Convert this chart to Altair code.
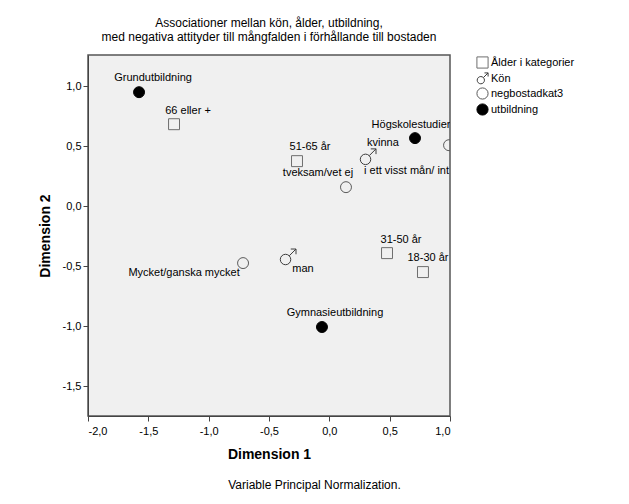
import altair as alt
import pandas as pd

# ---- data ----
labels = ["Grundutbildning", "66 eller +", "51-65 år", "31-50 år", "18-30 år",
          "kvinna", "man", "tveksam/vet ej", "i ett visst mån/ int",
          "Mycket/ganska mycket", "Högskolestudier", "Gymnasieutbildning"]
groups = ["utbildning", "Ålder i kategorier", "Ålder i kategorier", "Ålder i kategorier",
          "Ålder i kategorier", "Kön", "Kön", "negbostadkat3", "negbostadkat3",
          "negbostadkat3", "utbildning", "utbildning"]
dim1 = [-1.577, -1.287, -0.268, 0.478, 0.776, 0.32, -0.343, 0.138, 0.992, -0.715, 0.71, -0.061]
dim2 = [0.95, 0.683, 0.375, -0.392, -0.55, 0.41, -0.425, 0.158, 0.508, -0.475, 0.567, -1.008]

group_order = ["Ålder i kategorier", "Kön", "negbostadkat3", "utbildning"]
x_ticks = [-2.0, -1.5, -1.0, -0.5, 0.0, 0.5, 1.0]
y_ticks = [-1.5, -1.0, -0.5, 0.0, 0.5, 1.0]

title_lines = ["Associationer mellan kön, ålder, utbildning,",
               "med negativa attityder till mångfalden i förhållande till bostaden"]
footer_text = "Variable Principal Normalization."

df = pd.DataFrame({"label": labels, "group": groups, "dim1": dim1, "dim2": dim2})

FONT = "Liberation Sans"
MALE = ("M -0.95 0.3 A 0.65 0.65 0 1 1 0.35 0.3 A 0.65 0.65 0 1 1 -0.95 0.3 "
        "M 0.16 -0.16 L 1 -1 M 0.35 -1 L 1 -1 L 1 -0.35")

xscale = alt.Scale(domain=[-2.0, 1.0], nice=False, zero=False)
yscale = alt.Scale(domain=[-1.75, 1.26], nice=False, zero=False)
lab_expr = "replace(replace(format(datum.value, '.1f'), '.', ','), '\u2212', '-')"

xenc = alt.X("dim1:Q", scale=xscale,
             axis=alt.Axis(values=x_ticks, labelExpr=lab_expr, title="Dimension 1",
                           grid=False, tickSize=5, labelPadding=4, titlePadding=11,
                           titleFontSize=14, titleFontWeight="bold", labelFontSize=11,
                           domainColor="#444", tickColor="#444", labelColor="#000",
                           titleColor="#000", labelFont=FONT, titleFont=FONT))
yenc = alt.Y("dim2:Q", scale=yscale,
             axis=alt.Axis(values=y_ticks, labelExpr=lab_expr, title="Dimension 2",
                           grid=False, tickSize=5, labelPadding=2, titlePadding=10,
                           titleFontSize=14, titleFontWeight="bold", labelFontSize=11,
                           domainColor="#444", tickColor="#444", labelColor="#000",
                           titleColor="#000", labelFont=FONT, titleFont=FONT))

shape_enc = alt.Shape("group:N", scale=alt.Scale(domain=group_order,
                                                 range=["square", MALE, "circle", "circle"]),
                      legend=alt.Legend(title=None, orient="none", legendX=388, legendY=1,
                                        labelFont=FONT, labelFontSize=11, labelColor="#000",
                                        symbolSize=125, symbolStrokeWidth=1, labelOffset=2,
                                        rowPadding=-1, padding=0))
fill_enc = alt.Fill("group:N", scale=alt.Scale(domain=group_order,
                                               range=["transparent", "transparent", "transparent", "#000"]))
stroke_enc = alt.Stroke("group:N", scale=alt.Scale(domain=group_order,
                                                   range=["#6e6e6e", "#3c3c3c", "#5a5a5a", "#000"]))

points = alt.Chart(df).transform_filter(alt.datum.group != "Kön").mark_point(
    filled=True, clip=True, strokeWidth=1, opacity=1, size=120
).encode(x=xenc, y=yenc, shape=shape_enc, fill=fill_enc, stroke=stroke_enc)

males = alt.Chart(df).transform_filter(alt.datum.group == "Kön").mark_point(
    filled=True, clip=True, strokeWidth=1, opacity=1, size=260
).encode(x=xenc, y=yenc, shape=shape_enc, fill=fill_enc, stroke=stroke_enc)

offsets = {
    "Grundutbildning": (14, -14, "center"),
    "66 eller +": (14, -13, "center"),
    "51-65 år": (13, -14, "center"),
    "31-50 år": (14, -13, "center"),
    "18-30 år": (5, -14, "center"),
    "kvinna": (15, -14, "center"),
    "man": (15, 12, "center"),
    "tveksam/vet ej": (-28, -14, "center"),
    "i ett visst mån/ int": (-85, 26, "left"),
    "Mycket/ganska mycket": (-59, 10, "center"),
    "Högskolestudier": (-4, -13, "center"),
    "Gymnasieutbildning": (13, -14, "center"),
}

layers = [points, males]
for lab, (dx, dy, al) in offsets.items():
    layers.append(
        alt.Chart(df).transform_filter(alt.datum.label == lab)
        .mark_text(dx=dx, dy=dy, align=al, baseline="middle", font=FONT, fontSize=11,
                   color="#000", clip=True)
        .encode(x=alt.X("dim1:Q", scale=xscale), y=alt.Y("dim2:Q", scale=yscale),
                text="label:N")
    )

footer = alt.Chart(pd.DataFrame({"t": [footer_text]})).mark_text(
    align="center", baseline="middle", font=FONT, fontSize=12, color="#000"
).encode(x=alt.value(226.5), y=alt.value(430), text="t:N")
layers.append(footer)

chart = alt.layer(*layers).properties(
    width=362, height=361,
    autosize=alt.AutoSizeParams(type="none"),
    padding={"left": 88, "top": 55, "right": 179, "bottom": 88},
    title=alt.TitleParams(text=title_lines, anchor="middle", font=FONT, fontSize=12,
                          fontWeight="normal", color="#000", offset=11, lineHeight=14),
    background="white",
).configure_view(fill="#f0f0f0", stroke="#555", strokeWidth=1.5)

chart.save("out.html", embed_options={"renderer": "svg", "actions": False})
